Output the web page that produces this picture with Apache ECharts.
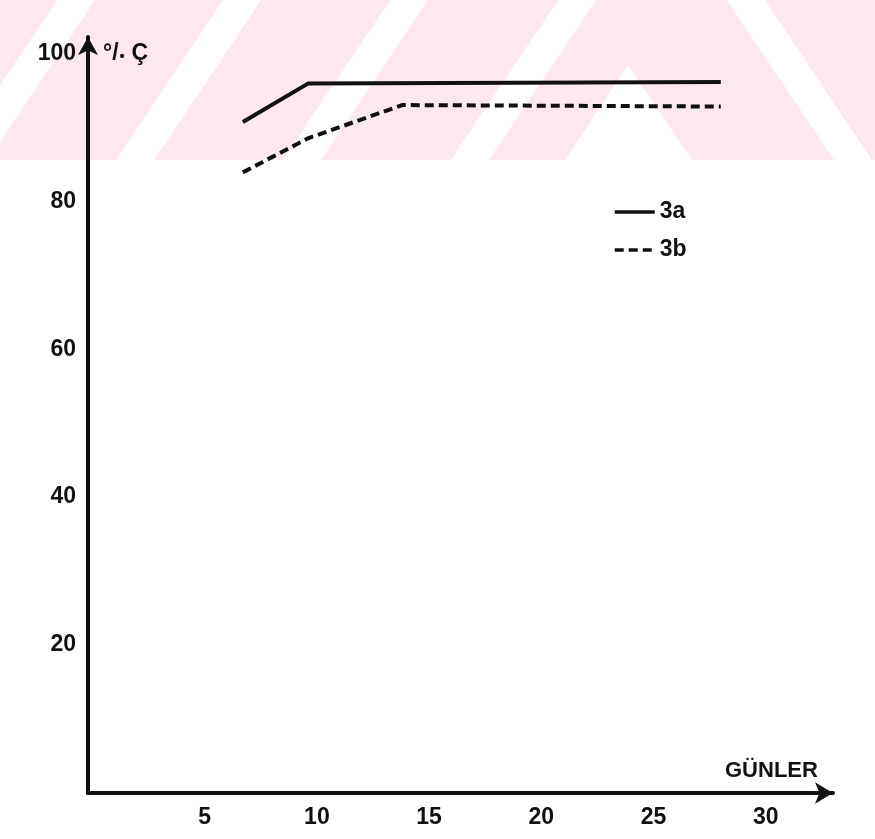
<!DOCTYPE html>
<html>
<head>
<meta charset="utf-8">
<script src="https://cdn.jsdelivr.net/npm/echarts@6/dist/echarts.min.js"></script>
<style>
html,body{margin:0;padding:0;background:#fff;}
#chart{width:875px;height:839px;}
</style>
</head>
<body>
<div id="chart"></div>
<script>
// ---- data ----
const xTickValues = [5, 10, 15, 20, 25, 30];
const yTickValues = [20, 40, 60, 80, 100];
const seriesNames = ['3a', '3b'];
const days3a = [6.7, 9.6, 28];
const vals3a = [90.7, 95.9, 96.1];
const days3b = [6.7, 9.6, 13.8, 28];
const vals3b = [83.9, 88.5, 93.0, 92.8];
const xName = 'GÜNLER';

// ---- decoration (watermark band) ----
const pink = '#fde9ed';
const bandH = 160;
const slashBases = [-50, 116, 283, 451];
const backBases = [834];
const stripeW = 38, slope = 0.67;
const wm = [];
wm.push({type:'rect', shape:{x:0,y:0,width:875,height:bandH}, style:{fill:pink}, silent:true, z:-10});
slashBases.forEach(b => {
  wm.push({type:'polygon', silent:true, z:-9, shape:{points:[[b,bandH],[b+stripeW,bandH],[b+stripeW+bandH*slope,0],[b+bandH*slope,0]]}, style:{fill:'#fff'}});
});
wm.push({type:'polygon', silent:true, z:-9, shape:{points:[[565,bandH],[628,65],[692,bandH]]}, style:{fill:'#fff'}});
backBases.forEach(b => {
  wm.push({type:'polygon', silent:true, z:-9, shape:{points:[[b,bandH],[b+stripeW,bandH],[b+stripeW-bandH*slope,0],[b-bandH*slope,0]]}, style:{fill:'#fff'}});
});

const zip = (xs, ys) => xs.map((x, i) => [x, ys[i]]);
const ink = '#111';
const labelFont = {color: ink, fontSize: 23, fontWeight: 'bold', fontFamily: 'Liberation Sans'};

const chart = echarts.init(document.getElementById('chart'), null, {renderer: 'canvas'});
chart.setOption({
  animation: false,
  backgroundColor: '#fff',
  grid: {left: 88, right: 42, top: 37, bottom: 46},
  xAxis: {
    type: 'value', min: -0.2, max: 33.0,
    axisLine: {show: true, onZero: false, symbol: ['none', 'arrow'], symbolSize: [16, 18], lineStyle: {color: ink, width: 4}},
    axisTick: {show: false},
    splitLine: {show: false},
    axisLabel: Object.assign({margin: 13, customValues: xTickValues}, labelFont)
  },
  yAxis: {
    type: 'value', min: 0, max: 102.2,
    axisLine: {show: true, onZero: false, symbol: ['none', 'arrow'], symbolSize: [15, 18], lineStyle: {color: ink, width: 4}},
    axisTick: {show: false},
    splitLine: {show: false},
    axisLabel: Object.assign({margin: 12, customValues: yTickValues}, labelFont)
  },
  legend: {
    orient: 'vertical', left: 613, top: 200,
    itemWidth: 40, itemHeight: 14, itemGap: 14, padding: 0,
    itemStyle: {opacity: 0},
    lineStyle: {width: 3.5},
    textStyle: Object.assign({lineHeight: 24}, labelFont),
    data: seriesNames
  },
  series: [
    {name: seriesNames[0], type: 'line', data: zip(days3a, vals3a), symbol: 'none',
     lineStyle: {color: ink, width: 4, type: 'solid'}, itemStyle: {color: ink}},
    {name: seriesNames[1], type: 'line', data: zip(days3b, vals3b), symbol: 'none',
     lineStyle: {color: ink, width: 4, type: [9, 5]}, itemStyle: {color: ink}}
  ],
  graphic: wm.concat([
    {type: 'text', left: 103, top: 42, z: 10,
     style: {text: '{a|°/}{b|•}  {a|Ç}', rich: {
       a: {fontSize: 23, fontWeight: 'bold', fontFamily: 'Liberation Sans', fill: ink},
       b: {fontSize: 15, fontWeight: 'bold', fontFamily: 'Liberation Sans', fill: ink, padding: [6,0,0,1]}
     }}},
    {type: 'text', left: 725, top: 760, z: 10,
     style: {text: xName, fontSize: 22, fontWeight: 'bold', fontFamily: 'Liberation Sans', fill: ink}}
  ])
});
</script>
</body>
</html>
